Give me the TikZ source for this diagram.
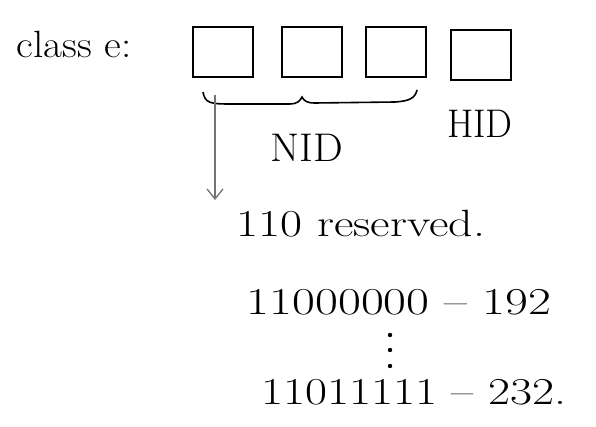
\documentclass[tikz,border=0pt]{standalone}
\usetikzlibrary{arrows.meta}
\begin{document}
\begin{tikzpicture}[x=1pt,y=-1pt,
  octet/.style={draw, line width=1.6pt, minimum width=60pt, minimum height=50pt, inner sep=0pt},
  big/.style={font=\fontsize{38}{40}\selectfont, inner sep=0pt},
  lbl/.style={font=\fontsize{40}{42}\selectfont, inner sep=0pt},
  pen/.style={line width=1.6pt}]
\useasboundingbox (0,0) rectangle (596,427);
\node[big] (cls) at (74,44) {\scalebox{1.08}[1]{class e:}};
\node[octet] (b1) at (223,52) {};
\node[octet] (b2) at (312,52) {};
\node[octet] (b3) at (396,52) {};
\node[octet] (b4) at (481,55) {};
\draw[pen] (203,92) .. controls (205,103) and (210,104) .. (230,104) -- (290,104)
  .. controls (297,104) and (300,101) .. (302,97)
  .. controls (304,101) and (307,103) .. (315,103) -- (395,102)
  .. controls (410,101) and (415,98) .. (417,90);
\node[lbl] (nid) at (307,148) {\scalebox{1.05}[1]{NID}};
\node[lbl] (hid) at (480,124) {\scalebox{0.95}[1]{HID}};
\coordinate (a0) at (215,95);
\coordinate (a1) at (215,200);
\draw[line width=1.3pt, black!55, -{Straight Barb[length=10pt,width=16pt]}] (a0) -- (a1);
\node[big] (res) at (361,224) {\scalebox{1.26}[1]{110 reserved.}};
\node[big] (lo) at (399,302) {\scalebox{1.31}[1]{11000000 -- 192}};
\foreach \yy [count=\i] in {335,350,366}
  \fill (390,\yy) circle (2.2pt) coordinate (d\i);
\node[big] (hi) at (414,392) {\scalebox{1.26}[1]{11011111 -- 232.}};
\end{tikzpicture}
\end{document}
